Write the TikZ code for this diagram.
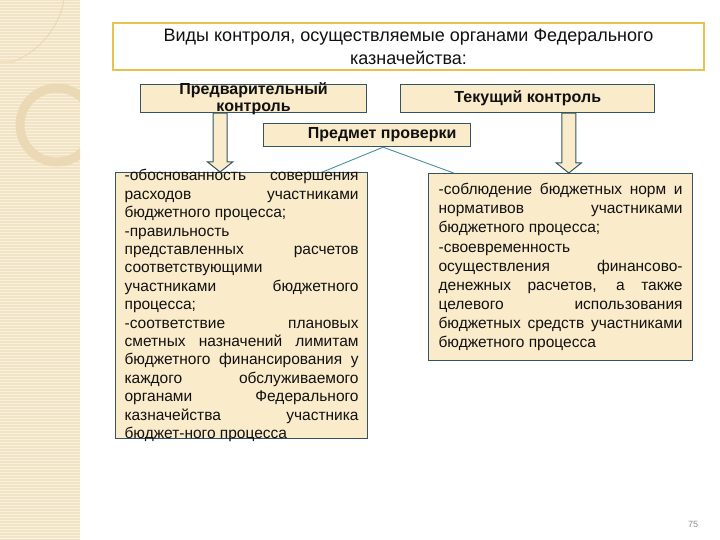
\documentclass[tikz,border=0pt]{standalone}
\usepackage{fontspec}
\setmainfont{Liberation Sans}
\usetikzlibrary{positioning,calc}
\definecolor{cBox}{HTML}{FAEBCB}
\definecolor{cEdge}{HTML}{34555F}
\definecolor{cTitle}{HTML}{E6C24F}
\definecolor{cLink}{HTML}{4A8FA0}
\definecolor{cStrip}{HTML}{F2E3C4}
\definecolor{cStripLn}{HTML}{F9F1E0}
\definecolor{cRing}{HTML}{EAD9B4}
\definecolor{cInk}{HTML}{111111}
\newcommand{\boxtext}[1]{\fontsize{15.5}{#1}\selectfont\tolerance=10000\hyphenpenalty=10000\exhyphenpenalty=10000\relax}

\begin{document}
\begin{tikzpicture}[
    x=1pt, y=-1pt,
    every node/.style={text=cInk},
    titlebox/.style={
        rectangle, draw=cTitle, line width=2pt, fill=white,
        minimum width=591pt, minimum height=47pt,
        align=center, inner sep=0pt, font=\fontsize{18}{23}\selectfont
    },
    kindbox/.style={
        rectangle, draw=cEdge, line width=1.2pt, fill=cBox,
        minimum height=28pt, align=center, inner xsep=0pt, inner ysep=-6pt,
        font=\fontsize{16}{16.5}\selectfont\bfseries
    },
    textbox/.style={
        rectangle, draw=cEdge, line width=1.2pt, fill=cBox,
        align=justify, inner ysep=-12pt, font=\boxtext{19.1}
    },
    fatarrow/.style={draw=cEdge, line width=1pt, fill=cBox, line join=miter},
    link/.style={draw=cLink, line width=0.9pt},
    pagenum/.style={font=\fontsize{9}{9}\selectfont, text=black!45},
]
\useasboundingbox (0,0) rectangle (720,540);
\fill[white] (0,0) rectangle (720,540);

% =====================================================
% Left decorative strip
% =====================================================

\fill[cStrip] (0,0) rectangle (80,540);
\foreach \yy in {1.5,4.5,...,540}
    \draw[cStripLn, line width=0.8pt] (0,\yy) -- (80,\yy);
\begin{scope}
    \clip (0,0) rectangle (80,540);
    \draw[cRing, line width=9pt] (57,125) circle[radius=37pt];
    \draw[cRing, line width=1pt] (0,62) -- (12,62) .. controls (40,52) and (60,25) .. (64,0);
\end{scope}

% =====================================================
% Title and kinds of control
% =====================================================

\node[titlebox, anchor=north west] (title) at (112,22)
    {Виды контроля, осуществляемые органами Федерального\\казначейства:};

\node[kindbox, minimum width=226pt, anchor=north west] (pre) at (140,84)
    {Предварительный\\контроль};
\node[kindbox, minimum width=254pt, right=33pt of pre] (cur) {Текущий контроль};

\node[kindbox, minimum width=207pt, minimum height=23pt, anchor=north west] (subj) at (263,123)
    {\hspace*{30pt}Предмет проверки};

% =====================================================
% Subjects of the checks
% =====================================================

\node[textbox, text width=234pt, inner xsep=9pt, minimum height=266pt,
      font=\boxtext{18.4}, anchor=north west] (ctrlpre) at (115,172)
    {-обоснованность совершения\linebreak
     расходов участниками\linebreak
     бюджетного процесса;\\
     -правильность\\
     представленных расчетов\linebreak
     соответствующими\\
     участниками бюджетного\linebreak
     процесса;\\
     -соответствие плановых\linebreak
     сметных назначений лимитам\linebreak
     бюджетного финансирования у\linebreak
     каждого обслуживаемого\linebreak
     органами Федерального\linebreak
     казначейства участника\linebreak
     бюджет-ного процесса};

\node[textbox, text width=244pt, inner xsep=10pt, minimum height=187pt, anchor=north west] (ctrlcur) at (428,173)
    {-соблюдение бюджетных норм и\linebreak
     нормативов участниками\linebreak
     бюджетного процесса;\\
     -своевременность\\
     осуществления финансово-\linebreak
     денежных расчетов, а также\linebreak
     целевого использования\linebreak
     бюджетных средств участниками\linebreak
     бюджетного процесса};

% =====================================================
% Hollow arrows and links
% =====================================================

\coordinate (aTopL) at ($(pre.south)+(-33.5,0)$);
\coordinate (aTipL) at (aTopL |- ctrlpre.north);
\draw[fatarrow] ($(aTopL)+(-7,0)$) -- ($(aTipL)+(-7,-10)$) -- ($(aTipL)+(-12.5,-10)$)
    -- (aTipL) -- ($(aTipL)+(12.5,-10)$) -- ($(aTipL)+(7,-10)$) -- ($(aTopL)+(7,0)$) -- cycle;

\coordinate (aTopR) at ($(cur.south)+(41,0)$);
\coordinate (aTipR) at (aTopR |- ctrlcur.north);
\draw[fatarrow] ($(aTopR)+(-7,0)$) -- ($(aTipR)+(-7,-10)$) -- ($(aTipR)+(-12.5,-10)$)
    -- (aTipR) -- ($(aTipR)+(12.5,-10)$) -- ($(aTipR)+(7,-10)$) -- ($(aTopR)+(7,0)$) -- cycle;

\draw[link] ($(subj.south)+(16,0)$) -- ($(ctrlpre.north)+(81,0)$);
\draw[link] ($(subj.south)+(16,0)$) -- ($(ctrlcur.north)+(-107,0)$);

\node[pagenum] (pgno) at (693,524) {75};

\end{tikzpicture}
\end{document}
